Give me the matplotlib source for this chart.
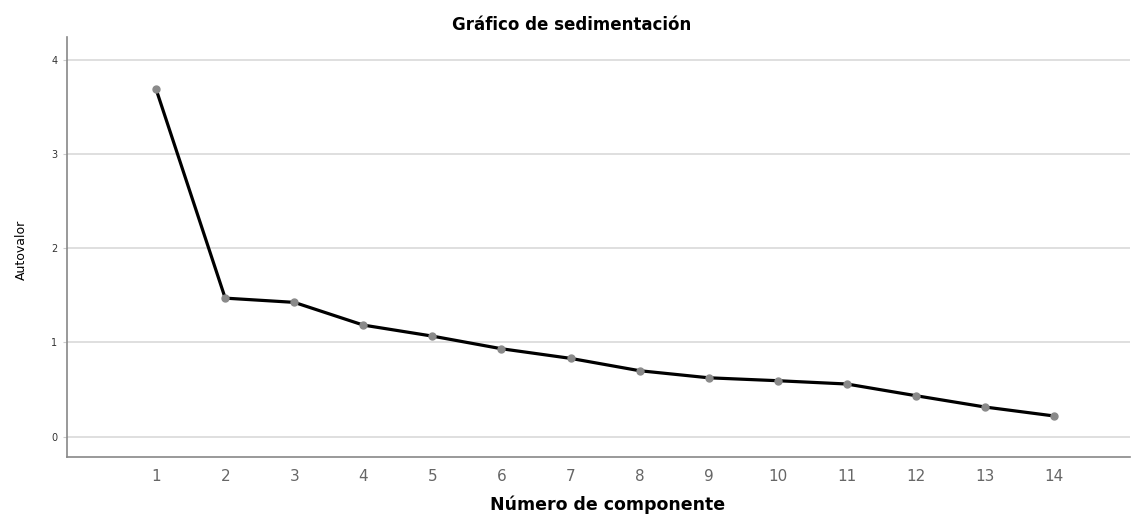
import matplotlib.pyplot as plt

# datos del gráfico de sedimentación
componentes = [1, 2, 3, 4, 5, 6, 7, 8, 9, 10, 11, 12, 13, 14]
autovalores = [3.685, 1.47, 1.425, 1.184, 1.067, 0.933, 0.831, 0.70, 0.625, 0.594, 0.559, 0.435, 0.315, 0.22]
y_ticks = [0, 1, 2, 3, 4]

plt.rcParams['font.family'] = 'DejaVu Sans'

fig = plt.figure(figsize=(11.34, 5.18), dpi=100)
ax = fig.add_axes([0.0591, 0.1178, 0.9374, 0.8108])

ax.plot(componentes, autovalores, color='black', linewidth=2.3, zorder=3)
ax.plot(componentes, autovalores, color='#8a8a8a', marker='o', markersize=5, linestyle='', zorder=4)

ax.set_xlim(-0.29, 15.1)
ax.set_ylim(-0.215, 4.24)
ax.set_xticks(componentes)
ax.set_yticks(y_ticks)
ax.yaxis.grid(True, color='#d9d9d9', linewidth=1.2)
ax.set_axisbelow(True)

for s in ['top', 'right']:
    ax.spines[s].set_visible(False)
for s in ['left', 'bottom']:
    ax.spines[s].set_color('#888888')
    ax.spines[s].set_linewidth(1.2)

ax.tick_params(axis='x', length=0, labelsize=11, labelcolor='#666666', pad=9)
ax.tick_params(axis='y', length=3, color='#cccccc', labelsize=7, labelcolor='#333333', pad=4)

fig.text(0.5044, 0.952, 'Gráfico de sedimentación', fontsize=12, fontweight='bold',
         ha='center', va='center')
fig.text(0.536, 0.008, 'Número de componente', fontsize=12.5, fontweight='bold',
         ha='center', va='bottom')
fig.text(0.0185, 0.518, 'Autovalor', fontsize=9, rotation=90, ha='center', va='center',
         fontfamily=['Liberation Sans Narrow', 'DejaVu Sans Condensed', 'DejaVu Sans'])

fig.savefig('out.png', dpi=100)
